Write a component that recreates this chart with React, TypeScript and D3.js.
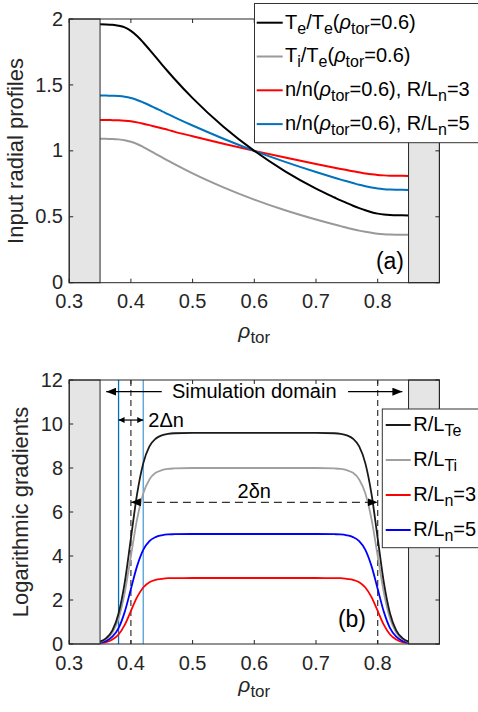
import React from 'react';
import * as d3 from 'd3';

// Radial grid (normalised toroidal flux coordinate)
const rho = [
  0.35, 0.36, 0.37, 0.38, 0.39, 0.40, 0.41, 0.42, 0.43, 0.44, 0.45, 0.46, 0.47,
  0.50, 0.55, 0.60, 0.65, 0.70,
  0.73, 0.74, 0.75, 0.76, 0.77, 0.78, 0.79, 0.80, 0.81, 0.82, 0.83, 0.84, 0.85,
];

// (a) Input radial profiles, normalised at rho_tor = 0.6
const teProfile = [
  1.960, 1.959, 1.956, 1.949, 1.936, 1.910, 1.871, 1.822, 1.768, 1.712, 1.656, 1.602, 1.549,
  1.400, 1.183, 1.000, 0.845, 0.714,
  0.646, 0.624, 0.604, 0.584, 0.566, 0.549, 0.534, 0.524, 0.517, 0.513, 0.511, 0.511, 0.510,
];
const tiProfile = [
  1.092, 1.091, 1.090, 1.087, 1.081, 1.069, 1.052, 1.029, 1.004, 0.978, 0.952, 0.926, 0.901,
  0.829, 0.723, 0.630, 0.549, 0.479,
  0.441, 0.429, 0.417, 0.406, 0.395, 0.386, 0.378, 0.371, 0.367, 0.365, 0.364, 0.364, 0.364,
];
const n3Profile = [
  1.234, 1.234, 1.233, 1.232, 1.229, 1.224, 1.216, 1.206, 1.195, 1.183, 1.171, 1.159, 1.146,
  1.111, 1.054, 1.000, 0.949, 0.900,
  0.872, 0.863, 0.854, 0.845, 0.837, 0.829, 0.822, 0.817, 0.814, 0.812, 0.811, 0.811, 0.810,
];
const n5Profile = [
  1.420, 1.419, 1.418, 1.416, 1.411, 1.401, 1.386, 1.367, 1.346, 1.323, 1.301, 1.278, 1.256,
  1.192, 1.092, 1.000, 0.916, 0.839,
  0.796, 0.782, 0.769, 0.756, 0.743, 0.732, 0.722, 0.714, 0.709, 0.706, 0.705, 0.705, 0.704,
];

// (b) Logarithmic gradients
const rlte = [
  0.11, 0.27, 0.62, 1.39, 2.79, 4.80, 6.81, 8.21, 8.98, 9.33, 9.48, 9.55, 9.58,
  9.60, 9.60, 9.60, 9.60, 9.60,
  9.58, 9.55, 9.48, 9.33, 8.98, 8.21, 6.81, 4.80, 2.79, 1.39, 0.62, 0.27, 0.11,
];
const rlti = [
  0.09, 0.22, 0.52, 1.16, 2.33, 4.00, 5.67, 6.84, 7.48, 7.78, 7.90, 7.96, 7.98,
  8.00, 8.00, 8.00, 8.00, 8.00,
  7.98, 7.96, 7.90, 7.78, 7.48, 6.84, 5.67, 4.00, 2.33, 1.16, 0.52, 0.22, 0.09,
];
const rln3 = [
  0.04, 0.08, 0.20, 0.43, 0.87, 1.50, 2.13, 2.57, 2.81, 2.92, 2.96, 2.99, 2.99,
  3.00, 3.00, 3.00, 3.00, 3.00,
  2.99, 2.99, 2.96, 2.92, 2.81, 2.57, 2.13, 1.50, 0.87, 0.43, 0.20, 0.08, 0.04,
];
const rln5 = [
  0.06, 0.14, 0.33, 0.72, 1.46, 2.50, 3.54, 4.28, 4.68, 4.86, 4.94, 4.98, 4.99,
  5.00, 5.00, 5.00, 5.00, 5.00,
  4.99, 4.98, 4.94, 4.86, 4.68, 4.28, 3.54, 2.50, 1.46, 0.72, 0.33, 0.14, 0.06,
];

const xTicks = [0.3, 0.4, 0.5, 0.6, 0.7, 0.8];
const yTicksA = [0, 0.5, 1, 1.5, 2];
const yTicksB = [0, 2, 4, 6, 8, 10, 12];

// Buffer regions outside the simulation domain
const bufferLeft = [0.3, 0.35];
const bufferRight = [0.85, 0.9];

// Annotation positions (rho_tor)
const deltaLines = [0.38, 0.42];
const centerLines = [0.4, 0.8];
const domainArrows = [[0.45, 0.36], [0.752, 0.84]];
const domainArrowY = 11.47;
const deltaArrowY = 10.18;
const deltaNArrowY = 6.44;

type Seg = [string, boolean];

const legendA: { seg: Seg[]; color: string }[] = [
  { seg: [['T', false], ['e', true], ['/T', false], ['e', true], ['(ρ', false], ['tor', true], ['=0.6)', false]], color: '#000000' },
  { seg: [['T', false], ['i', true], ['/T', false], ['e', true], ['(ρ', false], ['tor', true], ['=0.6)', false]], color: '#999999' },
  { seg: [['n/n(ρ', false], ['tor', true], ['=0.6), R/L', false], ['n', true], ['=3', false]], color: '#ff0000' },
  { seg: [['n/n(ρ', false], ['tor', true], ['=0.6), R/L', false], ['n', true], ['=5', false]], color: '#0072bd' },
];
const legendB: { seg: Seg[]; color: string }[] = [
  { seg: [['R/L', false], ['Te', true]], color: '#1a1a1a' },
  { seg: [['R/L', false], ['Ti', true]], color: '#a0a0a0' },
  { seg: [['R/L', false], ['n', true], ['=3', false]], color: '#ff0000' },
  { seg: [['R/L', false], ['n', true], ['=5', false]], color: '#0000ff' },
];

const FONT = '"Liberation Sans", Arial, Helvetica, sans-serif';
const AX = '#262626';

const x = d3.scaleLinear().domain([0.3, 0.9]).range([69.2, 439.4]);
const yA = d3.scaleLinear().domain([0, 2]).range([282.7, 19]);
const yB = d3.scaleLinear().domain([0, 12]).range([644, 380]);

function pathFor(vals: number[], y: d3.ScaleLinear<number, number>) {
  const line = d3
    .line<number>()
    .x((_, i) => x(rho[i]))
    .y((v) => y(v))
    .curve(d3.curveMonotoneX);
  return line(vals) || '';
}

function RichText({ seg, x0, y0, size, sub }: { seg: Seg[]; x0: number; y0: number; size: number; sub: number }) {
  let shifted = false;
  return (
    <text x={x0} y={y0} fontSize={size} fontFamily={FONT} fill="#000">
      {seg.map(([t, isSub], i) => {
        let dy = 0;
        if (isSub && !shifted) { dy = 5; shifted = true; }
        else if (!isSub && shifted) { dy = -5; shifted = false; }
        const greek = t.includes('ρ');
        return (
          <tspan key={i} dy={dy} fontSize={isSub ? sub : size}>
            {greek ? (
              <>
                {t.replace('ρ', '')}
                <tspan fontStyle="italic">ρ</tspan>
              </>
            ) : t}
          </tspan>
        );
      })}
    </text>
  );
}

function Frame({ y, ticks, top, bottom }: { y: d3.ScaleLinear<number, number>; ticks: number[]; top: number; bottom: number }) {
  const l = x(0.3);
  const r = x(0.9);
  return (
    <g>
      {/* buffer zones */}
      {[bufferLeft, bufferRight].map((b, i) => (
        <rect key={i} x={x(b[0])} y={top} width={x(b[1]) - x(b[0])} height={bottom - top}
          fill="#e5e5e5" stroke={AX} strokeWidth={1} />
      ))}
      <rect x={l} y={top} width={r - l} height={bottom - top} fill="none" stroke={AX} strokeWidth={1} />
      {xTicks.map((t) => (
        <g key={t}>
          <line x1={x(t)} x2={x(t)} y1={bottom} y2={bottom - 4} stroke={AX} />
          <line x1={x(t)} x2={x(t)} y1={top} y2={top + 4} stroke={AX} />
          <text x={x(t)} y={bottom + 25.5} textAnchor="middle" fontSize={20} fontFamily={FONT} fill="#262626">
            {String(t)}
          </text>
        </g>
      ))}
      {ticks.map((t) => (
        <g key={t}>
          <line x1={l} x2={l + 4} y1={y(t)} y2={y(t)} stroke={AX} />
          <line x1={r} x2={r - 4} y1={y(t)} y2={y(t)} stroke={AX} />
          <text x={63} y={y(t)} dy="0.33em" textAnchor="end" fontSize={20} fontFamily={FONT} fill="#262626">
            {String(t)}
          </text>
        </g>
      ))}
    </g>
  );
}

function XLabel({ baseline }: { baseline: number }) {
  return (
    <text x={x(0.6)} y={baseline} textAnchor="middle" fontSize={21} fontFamily={FONT} fill="#262626">
      <tspan fontStyle="italic">ρ</tspan>
      <tspan dy={5} fontSize={17}>tor</tspan>
    </text>
  );
}

export default function App() {
  return (
    <svg width={478} height={712} viewBox="0 0 478 712"
      style={{ position: 'absolute', left: 0, top: 0, background: '#fff' }}>
      <defs>
        <marker id="headBig" viewBox="0 0 10 8" refX={10} refY={4} markerWidth={10} markerHeight={8}
          markerUnits="userSpaceOnUse" orient="auto-start-reverse">
          <path d="M0,0 L10,4 L0,8 z" fill="#000" />
        </marker>
        <marker id="headSmall" viewBox="0 0 6 6" refX={6} refY={3} markerWidth={6} markerHeight={6}
          markerUnits="userSpaceOnUse" orient="auto-start-reverse">
          <path d="M0,0 L6,3 L0,6 z" fill="#000" />
        </marker>
      </defs>
      <rect x={0} y={0} width={478} height={712} fill="#fff" />

      {/* ---------- (a) profiles ---------- */}
      <g>
        <path d={pathFor(tiProfile, yA)} fill="none" stroke="#999999" strokeWidth={2} />
        <path d={pathFor(n3Profile, yA)} fill="none" stroke="#ff0000" strokeWidth={2} />
        <path d={pathFor(n5Profile, yA)} fill="none" stroke="#0072bd" strokeWidth={2} />
        <path d={pathFor(teProfile, yA)} fill="none" stroke="#000000" strokeWidth={2} />
        <Frame y={yA} ticks={yTicksA} top={19} bottom={282.7} />
        <text transform={`translate(23,151) rotate(-90)`} textAnchor="middle" fontSize={22} fontFamily={FONT} fill="#262626">
          Input radial profiles
        </text>
        <XLabel baseline={338} />
        <text x={404} y={268.5} textAnchor="end" fontSize={23} fontFamily={FONT} fill="#000">(a)</text>
        {/* legend */}
        <rect x={254.5} y={3.5} width={240} height={139.2} fill="#fff" stroke="#333" strokeWidth={1} />
        {legendA.map((e, i) => {
          const ly = 22.7 + i * 33.8;
          return (
            <g key={i}>
              <line x1={256.7} x2={282.7} y1={ly} y2={ly} stroke={e.color} strokeWidth={2} />
              <RichText seg={e.seg} x0={285} y0={ly + 5.8} size={20} sub={16} />
            </g>
          );
        })}
      </g>

      {/* ---------- (b) gradients ---------- */}
      <g>
        {deltaLines.map((d, i) => (
          <line key={d} x1={x(d)} x2={x(d)} y1={380} y2={644}
            stroke={i === 0 ? '#0072bd' : '#4fa0d8'} strokeWidth={1.3} />
        ))}
        {centerLines.map((d) => (
          <line key={d} x1={x(d)} x2={x(d)} y1={380} y2={644} stroke="#333" strokeWidth={1.2} strokeDasharray="6,4" />
        ))}
        <path d={pathFor(rln3, yB)} fill="none" stroke="#ff0000" strokeWidth={1.8} />
        <path d={pathFor(rln5, yB)} fill="none" stroke="#0000ff" strokeWidth={1.8} />
        <path d={pathFor(rlti, yB)} fill="none" stroke="#a0a0a0" strokeWidth={1.8} />
        <path d={pathFor(rlte, yB)} fill="none" stroke="#1a1a1a" strokeWidth={1.8} />
        <Frame y={yB} ticks={yTicksB} top={380} bottom={644} />
        <text transform={`translate(28,512) rotate(-90)`} textAnchor="middle" fontSize={22} fontFamily={FONT} fill="#262626">
          Logarithmic gradients
        </text>
        <XLabel baseline={692} />
        <text x={366} y={627} textAnchor="end" fontSize={23} fontFamily={FONT} fill="#000">(b)</text>

        {/* simulation domain */}
        {domainArrows.map(([a, b], i) => (
          <line key={i} x1={x(a)} x2={x(b)} y1={yB(domainArrowY)} y2={yB(domainArrowY)}
            stroke="#000" strokeWidth={1.3} markerEnd="url(#headBig)" />
        ))}
        <text x={x(0.6)} y={398.3} textAnchor="middle" fontSize={20} fontFamily={FONT} fill="#000">Simulation domain</text>

        {/* 2Δn */}
        <line x1={x(deltaLines[0])} x2={x(deltaLines[1])} y1={yB(deltaArrowY)} y2={yB(deltaArrowY)}
          stroke="#000" strokeWidth={1.2} markerStart="url(#headSmall)" markerEnd="url(#headSmall)" />
        <text x={148.3} y={426.5} fontSize={20} fontFamily={FONT} fill="#000">2Δn</text>

        {/* 2δn */}
        <line x1={x(centerLines[0])} x2={x(centerLines[1])} y1={yB(deltaNArrowY)} y2={yB(deltaNArrowY)}
          stroke="#333" strokeWidth={1.2} strokeDasharray="8,5"
          markerStart="url(#headBig)" markerEnd="url(#headBig)" />
        <text x={x(0.6)} y={498} textAnchor="middle" fontSize={20} fontFamily={FONT} fill="#000">2δn</text>

        {/* legend */}
        <rect x={382.3} y={409} width={120} height={138.7} fill="#fff" stroke="#333" strokeWidth={1} />
        {legendB.map((e, i) => {
          const ly = 425 + i * 35;
          return (
            <g key={i}>
              <line x1={385.7} x2={410.7} y1={ly} y2={ly} stroke={e.color} strokeWidth={2} />
              <RichText seg={e.seg} x0={413.3} y0={ly + 6} size={20} sub={16} />
            </g>
          );
        })}
      </g>
    </svg>
  );
}
